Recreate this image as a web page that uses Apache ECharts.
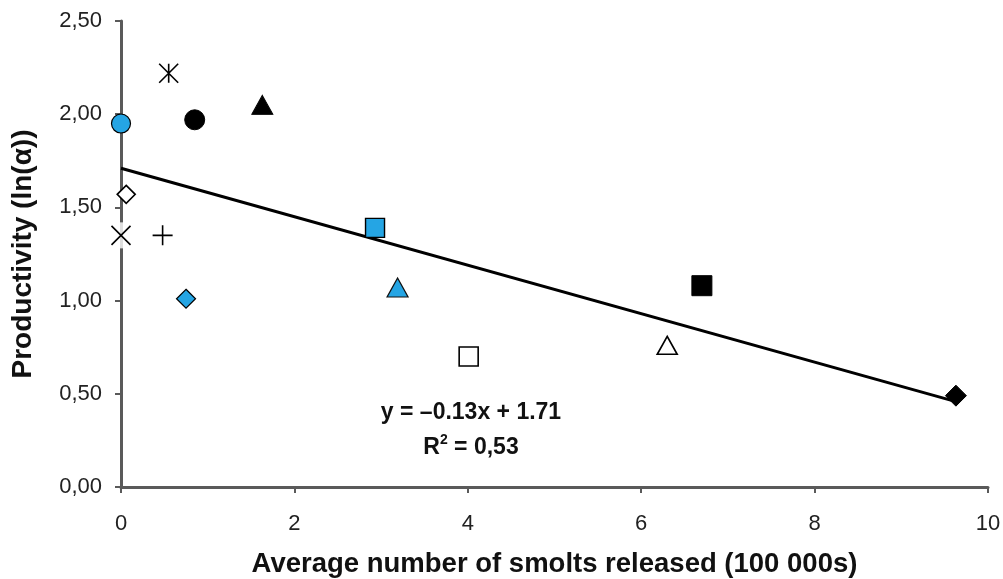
<!DOCTYPE html>
<html>
<head>
<meta charset="utf-8">
<script src="https://cdn.jsdelivr.net/npm/echarts@6/dist/echarts.min.js"></script>
<style>
  html, body { margin: 0; padding: 0; background: #fff; }
  #chart { width: 1003px; height: 579px; }
</style>
</head>
<body>
<div id="chart"></div>
<script>
// Average smolts released (100 000s) and productivity ln(alpha) per river stock
const smolts       = [0.00, 0.55, 0.85, 1.63, 0.06, 0.00, 0.48, 0.75, 2.93, 3.19, 4.01, 6.30, 6.70, 9.63];
const productivity = [1.95, 2.22, 1.97, 2.05, 1.57, 1.35, 1.35, 1.01, 1.39, 1.07, 0.70, 0.76, 1.08, 0.49];
const markerKinds  = ['blueCircle', 'asterisk', 'blackCircle', 'blackTriangle', 'openDiamond', 'cross',
                      'plus', 'blueDiamond', 'blueSquare', 'blueTriangle', 'openSquare', 'openTriangle',
                      'blackSquare', 'blackDiamond'];

// Least-squares fit shown on the chart
const trendSlope = -0.13;
const trendIntercept = 1.71;
const trendR2 = '0,53';

const xTicks = [0, 2, 4, 6, 8, 10];
const yTicks = [0, 0.5, 1, 1.5, 2, 2.5];

const BLUE = '#25a5e4';
const ASTERISK = 'path://M0,0L10,10M10,0L0,10M5,0L5,10';
const CROSS = 'path://M0,0L10,10M10,0L0,10';
const PLUS = 'path://M5,0L5,10M0,5L10,5';

const markerStyles = {
  blueCircle:    { symbol: 'circle',   size: 19, color: BLUE,   border: '#000', bw: 1.2 },
  blackCircle:   { symbol: 'circle',   size: 20, color: '#000', border: '#000', bw: 1 },
  blackTriangle: { symbol: 'triangle', size: [21, 19], color: '#000', border: '#000', bw: 1 },
  blueTriangle:  { symbol: 'triangle', size: [21, 19], color: BLUE, border: '#111', bw: 1.2 },
  openTriangle:  { symbol: 'triangle', size: [20, 18], color: '#fff', border: '#000', bw: 1.6 },
  blueSquare:    { symbol: 'rect',     size: 19, color: BLUE,   border: '#000', bw: 1.4 },
  openSquare:    { symbol: 'rect',     size: 19, color: '#fff', border: '#000', bw: 1.6 },
  blackSquare:   { symbol: 'rect',     size: 20, color: '#000', border: '#000', bw: 1 },
  blueDiamond:   { symbol: 'diamond',  size: 19, color: BLUE,   border: '#000', bw: 1.2 },
  openDiamond:   { symbol: 'diamond',  size: 18, color: '#fff', border: '#000', bw: 1.6 },
  blackDiamond:  { symbol: 'diamond',  size: 21, color: '#000', border: '#000', bw: 1 },
  asterisk:      { symbol: ASTERISK,   size: 19, color: 'none', border: '#000', bw: 1.6 },
  cross:         { symbol: CROSS,      size: 19, color: 'none', border: '#000', bw: 1.6 },
  plus:          { symbol: PLUS,       size: 20, color: 'none', border: '#000', bw: 1.6 }
};

const fmt = v => v.toFixed(2).replace('.', ',');
const FONT = '"Liberation Sans", Arial, sans-serif';

const series = [];

// white backing behind the cross marker, which sits on the y axis
markerKinds.forEach((k, i) => {
  if (k === 'cross') {
    series.push({
      type: 'scatter', clip: false, z: 3, silent: true,
      symbol: 'rect', symbolSize: [16, 26],
      itemStyle: { color: '#fff' },
      data: [[smolts[i], productivity[i]]]
    });
  }
});

markerKinds.forEach((k, i) => {
  const s = markerStyles[k];
  series.push({
    type: 'scatter', clip: false, z: 5,
    symbol: s.symbol, symbolSize: s.size,
    itemStyle: { color: s.color, borderColor: s.border, borderWidth: s.bw, opacity: 1 },
    data: [[smolts[i], productivity[i]]]
  });
});

// regression line over the observed range
const xMin = Math.min(...smolts), xMax = Math.max(...smolts);
series.push({
  type: 'line', z: 4, clip: false, symbol: 'none', silent: true,
  lineStyle: { color: '#000', width: 3 },
  data: [[xMin, trendIntercept + trendSlope * xMin], [xMax, trendIntercept + trendSlope * xMax]]
});

const axisCol = '#5a5a5a';
const chart = echarts.init(document.getElementById('chart'), null, { renderer: 'canvas' });
chart.setOption({
  animation: false,
  backgroundColor: '#fff',
  grid: { left: 121, right: 15, top: 21, bottom: 92, containLabel: false, outerBoundsMode: 'none' },
  xAxis: {
    type: 'value', min: xTicks[0], max: xTicks[xTicks.length - 1], interval: 2,
    name: 'Average number of smolts released (100 000s)',
    nameLocation: 'middle', nameGap: 63,
    nameTextStyle: { fontFamily: FONT, fontWeight: 'bold', fontSize: 27.5, color: '#111' },
    axisLine: { show: true, lineStyle: { color: axisCol, width: 3 } },
    axisTick: { show: true, length: 6, inside: false, lineStyle: { color: axisCol, width: 2 } },
    axisLabel: { margin: 26, fontFamily: FONT, fontSize: 22, color: '#222' },
    splitLine: { show: false }
  },
  yAxis: {
    type: 'value', min: yTicks[0], max: yTicks[yTicks.length - 1], interval: 0.5,
    name: 'Productivity (ln(\u03B1))',
    nameLocation: 'middle', nameGap: 84, nameRotate: 90,
    nameTextStyle: { fontFamily: FONT, fontWeight: 'bold', fontSize: 28, color: '#111' },
    axisLine: { show: true, onZero: false, lineStyle: { color: axisCol, width: 3 } },
    axisTick: { show: true, length: 6, lineStyle: { color: axisCol, width: 2 } },
    axisLabel: { margin: 19, fontFamily: FONT, fontSize: 22, color: '#222', formatter: fmt },
    splitLine: { show: false }
  },
  graphic: [
    {
      type: 'text', x: 471, y: 413, z: 10,
      style: {
        text: 'y = \u20130.13x + 1.71',
        font: 'bold 23px ' + FONT,
        fill: '#111', align: 'center', verticalAlign: 'middle'
      }
    },
    {
      type: 'text', x: 471, y: 446, z: 10,
      style: {
        text: '{b|R}{s|2}{b| = ' + trendR2 + '}',
        rich: {
          b: { font: 'bold 23px ' + FONT, fill: '#111', verticalAlign: 'bottom' },
          s: { font: 'bold 14px ' + FONT, fill: '#111', verticalAlign: 'top', padding: [0, 0, 12, 0] }
        },
        align: 'center', verticalAlign: 'middle'
      }
    }
  ],
  series: series
});
</script>
</body>
</html>
